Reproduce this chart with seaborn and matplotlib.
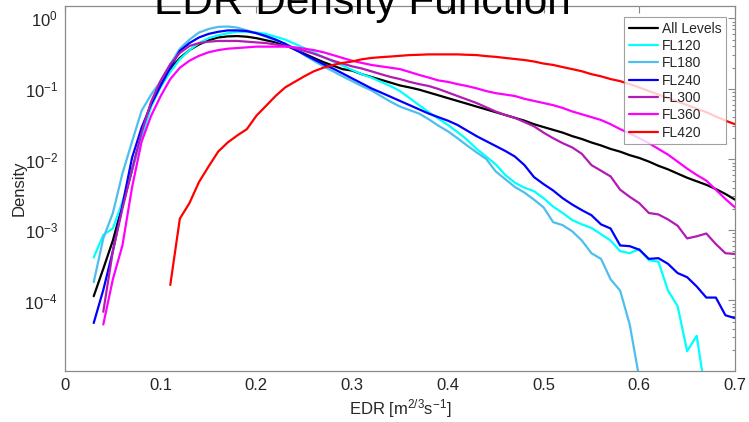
import numpy as np
import pandas as pd
import matplotlib
matplotlib.use("Agg")
import matplotlib.pyplot as plt
from matplotlib.ticker import LogLocator, FixedLocator, NullLocator, LogFormatterSciNotation
import seaborn as sns

# EDR bin centres (m^(2/3) s^-1), 0.01 spacing
edr = np.round(np.arange(0.03, 0.7001, 0.01), 2)

all_levels = [1.15e-4, 2.82e-4, 7.08e-4, 2.24e-3, 7.08e-3, 2.24e-2, 6.31e-2, 0.120, 0.191, 0.275,
              0.355, 0.427, 0.490, 0.537, 0.556, 0.562, 0.550, 0.525, 0.490, 0.457,
              0.417, 0.363, 0.316, 0.275, 0.240, 0.214, 0.191, 0.182, 0.162, 0.148,
              0.135, 0.123, 0.112, 0.105, 0.0977, 0.0891, 0.0813, 0.0741, 0.0676, 0.0617,
              0.0562, 0.0513, 0.0468, 0.0427, 0.0389, 0.0355, 0.0316, 0.0288, 0.0263, 0.0240,
              0.0214, 0.0195, 0.0174, 0.0158, 0.0141, 0.0129, 0.0115, 0.0105, 0.00933, 0.00813,
              0.00724, 0.00631, 0.00550, 0.00490, 0.00437, 0.00380, 0.00324, 0.00269]

fl120 = [4.07e-4, 8.51e-4, 1.05e-3, 2.51e-3, 7.08e-3, 2.0e-2, 5.62e-2, 0.107, 0.174, 0.263,
         0.355, 0.447, 0.525, 0.575, 0.617, 0.646, 0.646, 0.631, 0.603, 0.550,
         0.501, 0.437, 0.380, 0.331, 0.282, 0.245, 0.214, 0.186, 0.162, 0.145,
         0.126, 0.110, 0.0933, 0.0741, 0.0589, 0.0468, 0.0380, 0.0309, 0.0245, 0.0191,
         0.0141, 0.0110, 0.00851, 0.00603, 0.00468, 0.00398, 0.00355, 0.00282, 0.00214, 0.00174,
         0.00138, 0.00120, 0.00107, 8.71e-4, 7.08e-4, 5.01e-4, 4.68e-4, 5.37e-4, 3.72e-4, 3.55e-4,
         1.38e-4, 8.32e-5, 1.91e-5, 3.16e-5, 4.0e-6]

fl180 = [1.82e-4, 7.59e-4, 1.74e-3, 6.31e-3, 1.78e-2, 4.90e-2, 8.32e-2, 0.129, 0.224, 0.372,
         0.501, 0.631, 0.708, 0.759, 0.767, 0.741, 0.676, 0.617, 0.550, 0.490,
         0.437, 0.380, 0.302, 0.251, 0.209, 0.178, 0.151, 0.129, 0.110, 0.0955,
         0.0794, 0.0661, 0.0562, 0.0501, 0.0447, 0.0372, 0.0302, 0.0251, 0.0200, 0.0158,
         0.0126, 0.0102, 0.00676, 0.00525, 0.00407, 0.00339, 0.00269, 0.00209, 0.00129, 0.00117,
         9.55e-4, 7.08e-4, 4.68e-4, 3.89e-4, 2.0e-4, 1.38e-4, 4.57e-5, 7.9e-6]

fl240 = [4.79e-5, 1.41e-4, 5.01e-4, 2.24e-3, 1.05e-2, 2.82e-2, 6.03e-2, 0.112, 0.200, 0.347,
         0.447, 0.537, 0.603, 0.646, 0.676, 0.676, 0.661, 0.617, 0.562, 0.501,
         0.437, 0.363, 0.309, 0.263, 0.224, 0.195, 0.166, 0.141, 0.120, 0.102,
         0.0891, 0.0776, 0.0676, 0.0589, 0.0513, 0.0447, 0.0398, 0.0355, 0.0309, 0.0257,
         0.0214, 0.0182, 0.0155, 0.0132, 0.0110, 0.00832, 0.00562, 0.00447, 0.00363, 0.00282,
         0.00229, 0.00191, 0.00162, 0.00120, 0.00105, 6.03e-4, 5.89e-4, 5.25e-4, 3.89e-4, 3.98e-4,
         3.31e-4, 2.45e-4, 2.14e-4, 1.58e-4, 1.10e-4, 1.10e-4, 6.17e-5, 5.62e-5]

fl300 = [6.92e-5, 5.01e-4, 2.0e-3, 7.08e-3, 2.40e-2, 6.61e-2, 0.132, 0.224, 0.324,
         0.407, 0.447, 0.468, 0.479, 0.479, 0.479, 0.468, 0.457, 0.447, 0.427,
         0.407, 0.380, 0.347, 0.316, 0.282, 0.251, 0.229, 0.209, 0.195, 0.178,
         0.162, 0.148, 0.138, 0.126, 0.117, 0.110, 0.100, 0.0891, 0.0794, 0.0708,
         0.0631, 0.0550, 0.0479, 0.0427, 0.0389, 0.0339, 0.0295, 0.0240, 0.0200, 0.0170,
         0.0148, 0.0120, 0.00832, 0.00692, 0.00575, 0.00372, 0.00295, 0.00240, 0.00174, 0.00166,
         0.00141, 0.00115, 7.59e-4, 8.13e-4, 8.91e-4, 6.31e-4, 4.68e-4, 4.57e-4]

fl360 = [4.57e-5, 2.0e-4, 6.03e-4, 3.98e-3, 1.78e-2, 4.17e-2, 7.94e-2, 0.138, 0.200,
         0.251, 0.295, 0.331, 0.355, 0.372, 0.380, 0.389, 0.398, 0.398, 0.398,
         0.398, 0.389, 0.372, 0.355, 0.331, 0.302, 0.275, 0.251, 0.234, 0.219,
         0.209, 0.200, 0.191, 0.174, 0.158, 0.145, 0.132, 0.126, 0.117, 0.110,
         0.102, 0.0933, 0.0871, 0.0832, 0.0794, 0.0724, 0.0676, 0.0631, 0.0589, 0.0537,
         0.0479, 0.0437, 0.0398, 0.0363, 0.0316, 0.0269, 0.0234, 0.0200, 0.0170, 0.0141,
         0.0117, 0.00933, 0.00741, 0.00603, 0.00501, 0.00372, 0.00275, 0.00209]

fl420 = [1.66e-4, 1.45e-3, 2.40e-3, 4.79e-3, 7.94e-3, 1.29e-2, 1.74e-2, 2.19e-2, 2.69e-2,
         4.17e-2, 5.75e-2, 7.94e-2, 0.105, 0.126, 0.151, 0.178, 0.200, 0.219, 0.234,
         0.245, 0.263, 0.275, 0.282, 0.288, 0.295, 0.302, 0.305, 0.309, 0.309,
         0.309, 0.309, 0.305, 0.302, 0.292, 0.285, 0.275, 0.266, 0.257, 0.245,
         0.229, 0.219, 0.204, 0.191, 0.178, 0.162, 0.151, 0.138, 0.129, 0.117,
         0.105, 0.0933, 0.0832, 0.0741, 0.0661, 0.0589, 0.0525, 0.0468, 0.0407, 0.0355,
         0.0316]

levels = ["All Levels", "FL120", "FL180", "FL240", "FL300", "FL360", "FL420"]
series = [all_levels, fl120, fl180, fl240, fl300, fl360, fl420]
first_bin = [0.03, 0.03, 0.03, 0.03, 0.04, 0.04, 0.11]
colors = ["#000000", "#00FFFF", "#4DBEEE", "#0000FF", "#B31BB3", "#FF00FF", "#FF0000"]

frames = []
for name, vals, x0 in zip(levels, series, first_bin):
    start = int(np.argmin(np.abs(edr - x0)))
    frames.append(pd.DataFrame({"EDR": edr[start:start + len(vals)],
                                "Density": vals, "Level": name}))
df = pd.concat(frames, ignore_index=True)

sns.set_style("white")
plt.rcParams["font.family"] = ["Liberation Sans", "DejaVu Sans"]
plt.rcParams["mathtext.fontset"] = "custom"
plt.rcParams["mathtext.rm"] = "Liberation Sans"
plt.rcParams["mathtext.it"] = "Liberation Sans:italic"
plt.rcParams["mathtext.bf"] = "Liberation Sans:bold"
plt.rcParams["axes.unicode_minus"] = False

fig = plt.figure(figsize=(7.49, 4.22), dpi=100)
ax = fig.add_axes([65 / 749, 51 / 422, 670 / 749, 365 / 422])

sns.lineplot(data=df, x="EDR", y="Density", hue="Level", hue_order=levels,
             palette=dict(zip(levels, colors)), estimator=None, errorbar=None,
             linewidth=1.6, ax=ax)

ax.set_yscale("log")
ax.set_xlim(0, 0.7)
ax.set_ylim(1e-5, 1.5)

ax.xaxis.set_major_locator(FixedLocator(np.round(np.arange(0, 0.71, 0.1), 1)))
ax.xaxis.set_minor_locator(NullLocator())
ax.set_xticklabels(["0", "0.1", "0.2", "0.3", "0.4", "0.5", "0.6", "0.7"])
ax.yaxis.set_major_locator(FixedLocator([1e-4, 1e-3, 1e-2, 1e-1, 1e0]))
ax.yaxis.set_major_formatter(LogFormatterSciNotation())
ax.yaxis.set_minor_locator(LogLocator(base=10, subs=np.arange(2, 10), numticks=20))

spine_col = "#8a8a8a"
for s in ax.spines.values():
    s.set_color(spine_col)
    s.set_linewidth(0.9)
ax.tick_params(which="both", direction="in", top=True, right=True,
               color=spine_col, width=0.8, labelcolor="#262626", labelsize=12)
ax.tick_params(which="major", length=5)
ax.tick_params(which="minor", length=2.5)
ax.tick_params(axis="x", pad=5)
ax.tick_params(axis="y", pad=5)

ax.set_xlabel("EDR [m$^{2/3}$s$^{-1}$]", fontsize=12, color="#262626", labelpad=3)
ax.set_ylabel("Density", fontsize=12, color="#262626", labelpad=-1.5)

fig.text(362 / 749, 1 - 14 / 422, "EDR Density Function", ha="center", va="baseline",
         fontsize=30.5, color="#000000")

leg = ax.legend(loc="upper right", bbox_to_anchor=(661 / 670, 1 - 10.7 / 365),
                borderaxespad=0, fontsize=10, frameon=True, fancybox=False,
                handlelength=2.1, handletextpad=0.25, labelspacing=0.24,
                borderpad=0.35, title=None)
leg.get_frame().set_edgecolor(spine_col)
leg.get_frame().set_linewidth(0.8)
for line in leg.get_lines():
    line.set_linewidth(1.6)

fig.savefig("out.png", dpi=100)
